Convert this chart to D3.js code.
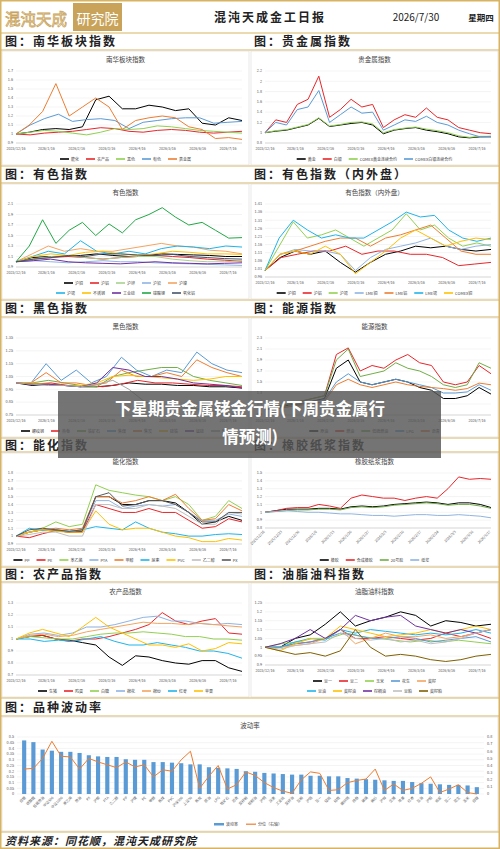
<!DOCTYPE html>
<html><head><meta charset="utf-8">
<script src="https://cdn.jsdelivr.net/npm/d3@7"></script>
<style>body{margin:0;background:#fff}svg{display:block}text{font-family:"Noto Sans CJK SC","Noto Sans",sans-serif}</style>
</head><body><svg id="c" width="500" height="849"></svg>
<script>
// dates along the line panels
var dates = ["2025/12/16","2026/1/16","2026/2/16","2026/3/16","2026/4/16","2026/5/16","2026/6/16","2026/7/16"];
var rubberDates = ["2025/12/16","2025/12/23","2025/12/30","2026/1/6","2026/1/13","2026/1/20","2026/1/27","2026/2/3","2026/2/10","2026/2/17","2026/2/24","2026/3/3","2026/3/10","2026/3/17"];

var nanhuaNames = ["能化","农产品","黑色","有色","贵金属"];
var nanhuaVals = [
  [1,1.02,1.05,1.06,1.05,1.08,1.38,1.42,1.28,1.28,1.32,1.3,1.26,1.28,1.12,1.1,1.18,1.15],
  [1,0.99,1.01,1.02,1.03,1.05,1.07,1.06,1.03,1.02,1.04,1.05,1.04,1.02,1.01,1.02,1.03],
  [1,1.02,1.04,1.03,1.01,0.99,1.02,1.06,1.05,1.06,1.09,1.08,1.06,1.04,1.03,1.02,1.01],
  [1,1.1,1.17,1.22,1.14,1.16,1.17,1.15,1.06,1.13,1.15,1.17,1.18,1.18,1.12,1.13,1.14],
  [1,1.1,1.25,1.56,1.2,1.3,1.4,1.3,1.05,1.15,1.18,1.2,1.18,1.08,1.05,0.95,0.96,0.94]];

var preciousNames = ["黄金","白银","COMEX黄金连续合约","COMEX白银连续合约"];
var preciousVals = [
  [1,1.03,1.05,1.1,1.15,1.28,1.12,1.15,1.18,1.2,1.15,0.98,1.05,1.08,1.1,1.05,1.02,0.98,0.92,0.9,0.92,0.92],
  [1,1.25,1.2,1.55,1.65,2.1,1.3,1.45,1.65,1.5,1.55,1.1,1.25,1.35,1.3,1.48,1.3,1.25,1.1,1.05,1.0,0.98],
  [1,1.04,1.06,1.11,1.16,1.29,1.13,1.16,1.2,1.21,1.17,1.0,1.06,1.09,1.11,1.07,1.04,1.0,0.94,0.91,0.93,0.93],
  [1,1.2,1.15,1.45,1.5,1.82,1.2,1.35,1.5,1.38,1.4,1.05,1.15,1.25,1.22,1.32,1.2,1.15,1.05,0.98,0.92,0.93]];

var nonferrousNames = ["沪铜","沪铝","沪锌","沪铅","沪镍","沪锡","不锈钢","工业硅","碳酸锂","氧化铝"];
var nonferrousVals = [
  [1,1.08,1.1,1.1,1.12,1.15,1.12,1.1,1.12,1.15,1.14,1.13,1.12,1.1,1.1],
  [1,1.05,1.08,1.1,1.08,1.05,1.08,1.1,1.12,1.1,1.08,1.05,1.03,1.01],
  [1,1.05,1.1,1.12,1.08,1.05,1.08,1.1,1.1,1.05,1.02,1.0,1.0,1.02],
  [1,1.02,1.0,0.98,1.0,1.02,1.0,1.0,0.98,0.97,0.96,0.95,0.94,0.93],
  [1,1.15,1.3,1.2,1.25,1.2,1.2,1.25,1.3,1.35,1.3,1.28,1.22,1.2,1.15],
  [1,1.1,1.2,1.15,1.4,1.2,1.15,1.2,1.15,1.25,1.3,1.28,1.25,1.3,1.28],
  [1,1.1,1.15,1.12,1.18,1.2,1.15,1.12,1.15,1.2,1.18,1.15,1.15,1.14],
  [1,1.02,1.05,1.0,0.98,0.97,0.96,0.98,1.0,0.98,0.97,0.96,0.97,0.98],
  [1,1.3,1.8,1.35,1.6,1.75,1.5,1.72,1.55,1.8,1.9,2.03,1.85,1.7,1.75,1.6,1.45,1.46],
  [1,1.05,1.08,1.12,1.1,1.15,1.15,1.13,1.12,1.14,1.1,1.08,1.06,1.05]];

var innerOuterNames = ["沪铜","沪铝","沪锡","LME铜","LME铝","LME锡","COMEX铜"];
var innerOuterVals = [
  [1,1.08,1.12,1.1,1.12,1.05,0.99,1.05,1.1,1.12,1.15,1.14,1.15,1.13,1.12,1.13],
  [1,1.08,1.1,1.12,1.12,1.15,1.1,1.12,1.12,1.1,1.1,1.08,1.03,1.04,1.05],
  [1,1.15,1.3,1.2,1.22,1.25,1.2,1.15,1.2,1.25,1.35,1.25,1.28,1.2,1.15,1.17,1.15],
  [1,1.1,1.13,1.12,1.12,1.1,1.0,1.08,1.13,1.15,1.17,1.2,1.15,1.13,1.15,1.16],
  [1,1.1,1.12,1.15,1.18,1.2,1.2,1.15,1.2,1.22,1.25,1.28,1.2,1.12,1.1,1.1],
  [1,1.2,1.31,1.25,1.2,1.22,1.2,1.2,1.25,1.3,1.36,1.33,1.34,1.25,1.2,1.18,1.2],
  [1,1.1,1.12,1.1,1.15,1.1,0.98,1.05,1.12,1.2,1.25,1.2,1.15,1.18,1.2,1.19]];

var ferrousNames = ["螺纹钢","热卷","铁矿石","焦煤","焦炭","硅铁","锰硅","玻璃"];
var ferrousVals = [
  [1,0.98,0.99,0.98,0.97,0.97,0.98,1.0,0.99,0.99,0.98,0.98,0.97,0.97,0.96],
  [1,0.99,1.0,0.98,0.98,0.97,0.99,1.02,1.0,1.0,0.99,0.98,0.98,0.97],
  [1,1.0,1.02,1.0,0.98,0.97,1.05,1.08,1.1,1.12,1.12,1.05,1.02,1.0,0.98],
  [1,1.0,1.15,1.02,1.1,1.0,1.05,1.2,1.1,1.05,1.1,1.08,1.24,1.15,1.1,1.08],
  [1,1.0,1.08,1.0,1.0,0.98,1.0,1.1,1.05,1.05,1.08,1.05,1.18,1.12,1.08,1.05],
  [1,1.0,0.99,0.98,0.98,1.0,1.05,1.06,1.05,1.04,1.03,1.02,1.03,1.05,1.05],
  [1,0.99,0.99,0.98,0.97,1.0,1.12,1.1,1.05,1.05,1.03,1.0,0.99,0.98,0.96],
  [1,0.99,0.98,0.98,0.97,0.99,1.02,0.95,0.85,0.83,0.82,0.8,0.79,0.76,0.75]];

var energyNames = ["原油","燃油","低硫燃油","LPG","沥青"];
var energyVals = [
  [1,1.03,1.08,1.1,1.15,1.2,1.75,1.9,1.5,1.45,1.5,1.55,1.5,1.4,1.35,1.2,1.2,1.25,1.4,1.28],
  [1,1.05,1.1,1.15,1.2,1.25,2.0,2.12,1.7,1.8,1.75,1.9,2.0,1.85,1.8,1.5,1.45,1.5,1.8,1.65],
  [1,1.05,1.1,1.15,1.2,1.25,1.9,2.1,1.6,1.65,1.7,1.85,1.75,1.7,1.6,1.45,1.4,1.45,1.85,1.75],
  [1,1.03,1.05,1.1,1.15,1.18,1.5,1.65,1.5,1.45,1.5,1.55,1.5,1.45,1.4,1.3,1.3,1.32,1.45,1.35],
  [1,1.02,1.05,1.08,1.1,1.15,1.45,1.55,1.45,1.4,1.45,1.5,1.45,1.42,1.4,1.38,1.35,1.38,1.48,1.45]];

var chemNames = ["PP","PE","苯乙烯","PTA","甲醇","尿素","PVC","乙二醇","PX"];
var chemVals = [
  [1,1.05,1.08,1.07,1.05,1.06,1.5,1.5,1.4,1.4,1.45,1.45,1.42,1.3,1.15,1.18,1.25,1.2],
  [1,0.98,1.03,1.07,1.05,1.05,1.4,1.35,1.3,1.3,1.35,1.3,1.3,1.2,1.1,1.12,1.22,1.18],
  [1,1.05,1.1,1.18,1.12,1.15,1.65,1.58,1.55,1.52,1.5,1.45,1.5,1.4,1.2,1.25,1.45,1.35],
  [1,1.05,1.08,1.08,1.06,1.08,1.45,1.45,1.35,1.38,1.4,1.38,1.4,1.3,1.2,1.2,1.28,1.25],
  [1,1.05,1.08,1.1,1.08,1.1,1.5,1.5,1.42,1.45,1.5,1.45,1.53,1.35,1.2,1.22,1.4,1.32],
  [1,1.1,1.07,1.08,1.06,1.08,1.12,1.1,1.08,1.18,1.1,1.05,1.03,1.0,1.0,1.02,1.03,1.02],
  [1,1.05,1.08,1.06,1.05,1.05,1.32,1.15,1.08,1.1,1.1,1.05,1.0,0.98,0.93,0.93,0.97,0.95],
  [1,1.02,1.05,1.05,1.0,1.0,1.4,1.4,1.35,1.35,1.4,1.38,1.35,1.25,1.15,1.15,1.3,1.28],
  [1,1.08,1.1,1.08,1.06,1.08,1.5,1.55,1.38,1.4,1.45,1.45,1.4,1.3,1.18,1.18,1.3,1.3]];

var rubberNames = ["橡胶","合成橡胶","20号胶","纸浆"];
var rubberVals = [
  [1,1.02,1.04,1.04,1.04,1.05,1.05,1.04,1.07,1.08,1.07,1.08,1.1,1.11,1.12,1.13,1.12,1.1,1.12,1.12,1.1,1.06],
  [1,1.02,1.05,1.06,1.06,1.1,1.08,1.05,1.18,1.22,1.2,1.18,1.18,1.15,1.18,1.2,1.18,1.3,1.45,1.42,1.43,1.42],
  [1,1.01,1.02,1.03,1.03,1.04,1.04,1.03,1.06,1.07,1.06,1.07,1.09,1.1,1.11,1.12,1.11,1.09,1.1,1.1,1.08,1.05],
  [1,1.01,1.02,1.01,1.0,1.0,0.99,0.98,0.98,0.97,0.96,0.96,0.95,0.96,0.97,0.97,0.96,0.96,0.97,0.96,0.95,0.93]];

var agriNames = ["生猪","鸡蛋","白糖","棉花","棉纱","红枣","苹果"];
var agriVals = [
  [1,1.02,1.03,1.0,0.99,0.97,0.95,0.85,0.78,0.86,0.85,0.82,0.8,0.79,0.82,0.82,0.76,0.73],
  [1,1.02,1.03,1.0,0.98,1.0,1.0,1.02,1.05,1.08,1.12,1.22,1.15,1.12,1.15,1.17,1.05,1.04],
  [1,1.02,1.01,1.0,1.0,1.02,1.04,1.05,1.05,1.06,1.05,1.04,1.02,1.02,1.0,1.0,0.99],
  [1,1.04,1.05,1.03,1.05,1.1,1.1,1.12,1.15,1.18,1.19,1.15,1.15,1.13,1.12,1.13,1.12],
  [1,1.03,1.04,1.02,1.03,1.06,1.08,1.1,1.12,1.14,1.13,1.13,1.12,1.13,1.12,1.11,1.1],
  [1,1.0,0.98,0.99,0.98,1.0,1.02,0.98,0.95,0.95,0.97,0.95,0.93,0.9,0.9,0.88,0.84],
  [1,1.05,1.08,1.05,1.02,1.1,1.18,1.1,1.05,1.0,0.95,0.95,0.93,0.96,0.9,0.92,0.97,0.96]];

var oilNames = ["豆一","豆二","玉米","花生","菜籽","豆油","菜籽油","棕榈油","豆粕","菜籽粕"];
var oilVals = [
  [1,1.0,1.05,1.07,1.13,1.2,1.12,1.15,1.17,1.2,1.18,1.12,1.15,1.14,1.12,1.13],
  [1,1.0,1.02,1.03,1.05,1.1,1.05,1.05,1.06,1.05,1.04,1.05,1.08,1.06,1.08,1.05],
  [1,1.02,1.03,1.05,1.05,1.08,1.06,1.05,1.04,1.03,1.04,1.03,1.04,1.03,1.02],
  [1,1.0,1.02,1.03,1.05,1.08,1.07,1.05,1.05,1.06,1.05,1.03,1.04,1.05,1.06,1.03],
  [1,1.0,1.01,1.02,1.05,1.1,1.02,1.05,1.08,1.06,1.06,1.07,1.05,1.06,1.08,1.1],
  [1,1.0,1.03,1.05,1.04,1.1,1.08,1.1,1.09,1.08,1.07,1.08,1.07,1.08,1.1,1.08],
  [1,0.98,1.02,1.05,1.05,1.12,1.1,1.08,1.06,1.07,1.08,1.1,1.08,1.1,1.12,1.1],
  [1,1.02,1.05,1.1,1.05,1.1,1.18,1.15,1.17,1.18,1.12,1.1,1.08,1.1,1.08,1.1],
  [1,0.99,1.01,1.02,1.03,1.08,1.05,1.04,1.05,1.03,1.04,1.02,1.03,1.05,1.08,1.1],
  [1,0.98,0.96,0.97,0.95,0.98,1.1,1.0,0.95,0.96,0.95,0.93,0.92,0.93,0.95,0.96]];

var volNames = ["白银","碳酸锂","低硫燃油","中证500","中证1000","苯乙烯","燃油","PX","沪锡","PTA","乙二醇","PP","沪镍","PE","甲醇","焦煤","PVC","沪深300","上证50","焦炭","原油","LPG","铁矿石","沥青","菜籽粕","棕榈油","沪铜","尿素","工业硅","菜籽油","豆粕","沪铝","豆一","锰硅","硅铁","螺纹钢","热卷","玻璃","棉纱","沪锌","生猪","苹果","红枣","豆油","沪铅","纸浆","豆二","花生","玉米","白糖"];
var volValues = [0.47,0.455,0.39,0.38,0.37,0.37,0.36,0.34,0.33,0.325,0.325,0.305,0.3,0.3,0.28,0.28,0.275,0.27,0.26,0.26,0.235,0.23,0.225,0.22,0.2,0.195,0.185,0.18,0.175,0.17,0.17,0.16,0.16,0.155,0.155,0.14,0.135,0.13,0.125,0.12,0.115,0.115,0.105,0.095,0.09,0.085,0.08,0.08,0.075,0.06];
var volPct = [0.35,0.36,0.5,0.74,0.53,0.52,0.35,0.5,0.45,0.41,0.37,0.45,0.38,0.41,0.24,0.34,0.32,0.48,0.6,0.08,0.25,0.4,0.07,0.13,0.31,0.26,0.16,0.09,0.04,0.01,0.2,0.31,0.29,0.05,0.06,0.16,0.19,0.21,0.35,0.05,0.14,0.05,0.08,0.15,0.24,0.02,0.07,0.13,0.02,0.0];

var svg = d3.select("#c");
var gold = "#d7b363";

function zip(names, vals, colors) {
  return names.map(function (n, i) { return {name: n, vals: vals[i], color: colors[i]}; });
}

function drawPanel(p) {
  var g = svg.append("g");
  g.append("rect").attr("x", p.x0).attr("y", p.py).attr("width", p.x1 - p.x0).attr("height", p.pe - p.py)
    .attr("fill", "#fff").attr("stroke", "#d9d9d9").attr("stroke-width", 0.6);
  g.append("text").attr("x", (p.x0 + p.x1) / 2).attr("y", p.py + 11).attr("text-anchor", "middle")
    .attr("font-size", 6.5).attr("fill", "#444").text(p.title);
  var legendH = p.legendRows.length * 10 + 2;
  var left = p.x0 + 14, right = p.x1 - 7, top = p.py + 20, bottom = p.pe - legendH - (p.rotated ? 26 : 10);
  var y = d3.scaleLinear().domain(p.domain).range([bottom, top]);
  var ticks = d3.range(p.domain[0], p.domain[1] + 1e-6, p.step);
  g.selectAll(".gl").data(ticks).join("line").attr("x1", left).attr("x2", right)
    .attr("y1", function (d) { return y(d); }).attr("y2", function (d) { return y(d); })
    .attr("stroke", "#e8e8e8").attr("stroke-width", 0.5);
  g.selectAll(".tl").data(ticks).join("text").attr("x", left - 3).attr("y", function (d) { return y(d) + 1.3; })
    .attr("text-anchor", "end").attr("font-size", 3.8).attr("fill", "#555")
    .text(function (d) { return +d.toFixed(2); });
  var xd = d3.scalePoint().domain(p.dates).range([left, right - (p.rotated ? 0 : 14)]);
  g.append("line").attr("x1", left).attr("x2", right).attr("y1", bottom).attr("y2", bottom).attr("stroke", "#bbb").attr("stroke-width", 0.5);
  p.dates.forEach(function (d) {
    var t = g.append("text").attr("font-size", 3.6).attr("fill", "#555").text(d);
    if (p.rotated) t.attr("transform", "translate(" + xd(d) + "," + (bottom + 4) + ") rotate(-45)").attr("text-anchor", "end");
    else t.attr("x", xd(d)).attr("y", bottom + 7).attr("text-anchor", "middle");
  });
  p.series.forEach(function (s) {
    var x = d3.scaleLinear().domain([0, s.vals.length - 1]).range([left, right]);
    g.append("path").datum(s.vals).attr("fill", "none").attr("stroke", s.color).attr("stroke-width", 1)
      .attr("stroke-linejoin", "round")
      .attr("d", d3.line().x(function (d, i) { return x(i); }).y(function (d) { return y(d); }));
  });
  p.legendRows.forEach(function (row, r) {
    var ly = p.pe - legendH + 6 + r * 10;
    var lg = g.append("g");
    var cx = 0;
    row.forEach(function (i) {
      var s = p.series[i];
      lg.append("line").attr("x1", cx).attr("x2", cx + 9).attr("y1", ly).attr("y2", ly).attr("stroke", s.color).attr("stroke-width", 1.6);
      var t = lg.append("text").attr("x", cx + 11).attr("y", ly + 1.5).attr("font-size", 4).attr("fill", "#444").text(s.name);
      cx += 11 + t.node().getComputedTextLength() + 7;
    });
    lg.attr("transform", "translate(" + ((p.x0 + p.x1) / 2 - (cx - 7) / 2) + ",0)");
  });
}

function header(y, h, text, x) {
  svg.append("text").attr("x", x).attr("y", y + h / 2 + 4.5).attr("font-size", 12).attr("font-weight", "bold")
    .attr("fill", "#222").attr("letter-spacing", 2).text(text);
}

// rows: header top, panel top, panel end
var rows = [[33, 50, 166], [166, 183, 300], [300, 317, 438], [438, 452, 567], [567, 582, 698]];
var L = [2, 249], R = [251, 498];
var headers = [["图：南华板块指数", "图：贵金属指数"], ["图：有色指数", "图：有色指数（内外盘）"], ["图：黑色指数", "图：能源指数"],
  ["图：能化指数", "图：橡胶纸浆指数"], ["图：农产品指数", "图：油脂油料指数"]];
rows.forEach(function (r, i) {
  header(r[0], r[1] - r[0], headers[i][0], 5);
  header(r[0], r[1] - r[0], headers[i][1], 254);
  svg.append("line").attr("x1", 0).attr("x2", 500).attr("y1", r[0]).attr("y2", r[0]).attr("stroke", gold).attr("stroke-width", 1.2);
  svg.append("line").attr("x1", 0).attr("x2", 500).attr("y1", r[1]).attr("y2", r[1]).attr("stroke", gold).attr("stroke-width", 1);
});

var panels = [
  {title: "南华板块指数", x: L, row: 0, domain: [0.9, 1.7], step: 0.1, series: zip(nanhuaNames, nanhuaVals, ["#000", "#e8262a", "#8fd14f", "#5b9bd5", "#ed7d31"]), legendRows: [[0, 1, 2, 3, 4]]},
  {title: "贵金属指数", x: R, row: 0, domain: [0.8, 2.2], step: 0.2, series: zip(preciousNames, preciousVals, ["#000", "#e8262a", "#8fd14f", "#5b9bd5"]), legendRows: [[0, 1, 2, 3]]},
  {title: "有色指数", x: L, row: 1, domain: [0.9, 2.1], step: 0.2, series: zip(nonferrousNames, nonferrousVals, ["#000", "#e8262a", "#a9d18e", "#8fb4e3", "#f4a460", "#1fb4ea", "#ffc000", "#7030a0", "#21a845", "#44546a"]), legendRows: [[0, 1, 2, 3, 4], [5, 6, 7, 8, 9]]},
  {title: "有色指数（内外盘）", x: R, row: 1, domain: [0.96, 1.41], step: 0.05, series: zip(innerOuterNames, innerOuterVals, ["#000", "#e8262a", "#92d050", "#8fb4e3", "#ed7d31", "#1fb4ea", "#ffc000"]), legendRows: [[0, 1, 2, 3, 4, 5, 6]]},
  {title: "黑色指数", x: L, row: 2, domain: [0.75, 1.35], step: 0.1, series: zip(ferrousNames, ferrousVals, ["#000", "#e8262a", "#70ad47", "#5b9bd5", "#ed7d31", "#ffc000", "#7030a0", "#a5a5a5"]), legendRows: [[0, 1, 2, 3, 4, 5, 6, 7]]},
  {title: "能源指数", x: R, row: 2, domain: [0.9, 2.3], step: 0.2, series: zip(energyNames, energyVals, ["#000", "#e8262a", "#70ad47", "#5b9bd5", "#ed7d31"]), legendRows: [[0, 1, 2, 3, 4]]},
  {title: "能化指数", x: L, row: 3, domain: [0.9, 1.8], step: 0.1, series: zip(chemNames, chemVals, ["#000", "#e8262a", "#92d050", "#8fb4e3", "#ed7d31", "#1fb4ea", "#ffc000", "#bfbfbf", "#595959"]), legendRows: [[0, 1, 2, 3, 4, 5, 6, 7, 8]]},
  {title: "橡胶纸浆指数", x: R, row: 3, domain: [0.8, 1.5], step: 0.1, rotated: true, series: zip(rubberNames, rubberVals, ["#000", "#e8262a", "#70ad47", "#8fb4e3"]), legendRows: [[0, 1, 2, 3]]},
  {title: "农产品指数", x: L, row: 4, domain: [0.7, 1.3], step: 0.1, series: zip(agriNames, agriVals, ["#000", "#e8262a", "#92d050", "#8fb4e3", "#f4a460", "#1fb4ea", "#ffc000"]), legendRows: [[0, 1, 2, 3, 4, 5, 6]]},
  {title: "油脂油料指数", x: R, row: 4, domain: [0.9, 1.25], step: 0.05, series: zip(oilNames, oilVals, ["#000", "#e8262a", "#92d050", "#5b9bd5", "#f4a460", "#1fb4ea", "#ffc000", "#7030a0", "#bfbfbf", "#806000"]), legendRows: [[0, 1, 2, 3, 4], [5, 6, 7, 8, 9]]}
];
panels.forEach(function (p) {
  var r = rows[p.row];
  p.x0 = p.x[0]; p.x1 = p.x[1]; p.py = r[1] + 1;
  p.pe = p.row < 4 ? rows[p.row + 1][0] - 1 : r[2] - 1;
  p.dates = p.rotated ? rubberDates : dates;
  drawPanel(p);
});

// volatility
var vy0 = 698, vp = 716, ve = 832;
header(vy0, vp - vy0, "图：品种波动率", 5);
svg.append("line").attr("x1", 0).attr("x2", 500).attr("y1", vy0).attr("y2", vy0).attr("stroke", gold).attr("stroke-width", 1.2);
svg.append("line").attr("x1", 0).attr("x2", 500).attr("y1", vp).attr("y2", vp).attr("stroke", gold).attr("stroke-width", 1);
svg.append("rect").attr("x", 2).attr("y", vp + 1).attr("width", 496).attr("height", ve - vp - 2).attr("fill", "#fff").attr("stroke", "#d9d9d9").attr("stroke-width", 0.6);
svg.append("text").attr("x", 250).attr("y", 728).attr("text-anchor", "middle").attr("font-size", 6.5).attr("fill", "#444").text("波动率");
var bx = d3.scaleBand().domain(volNames).range([17, 484]).padding(0.55);
var byL = d3.scaleLinear().domain([0, 0.5]).range([794, 737]);
var byR = d3.scaleLinear().domain([0, 0.8]).range([794, 737]);
var lt = d3.range(0, 0.5001, 0.05), rt = d3.range(0, 0.8001, 0.1);
svg.selectAll(".vg").data(lt).join("line").attr("x1", 17).attr("x2", 484)
  .attr("y1", function (d) { return byL(d); }).attr("y2", function (d) { return byL(d); }).attr("stroke", "#e8e8e8").attr("stroke-width", 0.5);
svg.selectAll(".vl").data(lt).join("text").attr("x", 14).attr("y", function (d) { return byL(d) + 1.3; })
  .attr("text-anchor", "end").attr("font-size", 3.8).attr("fill", "#555").text(function (d) { return +d.toFixed(2); });
svg.selectAll(".vr").data(rt).join("text").attr("x", 487).attr("y", function (d) { return byR(d) + 1.3; })
  .attr("font-size", 3.8).attr("fill", "#555").text(function (d) { return +d.toFixed(1); });
svg.selectAll(".bar").data(volValues).join("rect").attr("x", function (d, i) { return bx(volNames[i]); })
  .attr("y", function (d) { return byL(d); }).attr("width", bx.bandwidth()).attr("height", function (d) { return 794 - byL(d); })
  .attr("fill", "#5b9bd5");
svg.append("path").datum(volPct).attr("fill", "none").attr("stroke", "#ed7d31").attr("stroke-width", 1)
  .attr("d", d3.line().x(function (d, i) { return bx(volNames[i]) + bx.bandwidth() / 2; }).y(function (d) { return byR(d); }));
volNames.forEach(function (n) {
  svg.append("text").attr("transform", "translate(" + (bx(n) + bx.bandwidth() / 2 + 2) + ",798) rotate(-45)")
    .attr("text-anchor", "end").attr("font-size", 3.6).attr("fill", "#666").text(n);
});
svg.append("rect").attr("x", 214).attr("y", 823).attr("width", 10).attr("height", 2.5).attr("fill", "#5b9bd5");
svg.append("text").attr("x", 226).attr("y", 825.8).attr("font-size", 4).attr("fill", "#444").text("波动率");
svg.append("line").attr("x1", 246).attr("x2", 256).attr("y1", 824.2).attr("y2", 824.2).attr("stroke", "#ed7d31").attr("stroke-width", 1.2);
svg.append("text").attr("x", 258).attr("y", 825.8).attr("font-size", 4).attr("fill", "#444").text("分位（右轴）");

// footer
svg.append("line").attr("x1", 0).attr("x2", 500).attr("y1", ve).attr("y2", ve).attr("stroke", gold).attr("stroke-width", 1.2);
svg.append("text").attr("x", 5).attr("y", 845).attr("font-size", 11).attr("font-weight", "bold").attr("font-style", "italic")
  .attr("fill", "#222").attr("letter-spacing", 1).text("资料来源：同花顺，混沌天成研究院");

// title bar
svg.append("text").attr("x", 5).attr("y", 25).attr("font-size", 15.5).attr("fill", "#fff").attr("stroke", "#c9a35a").attr("stroke-width", 0.8).text("混沌天成");
svg.append("rect").attr("x", 73).attr("y", 3).attr("width", 49).attr("height", 28).attr("fill", "#c9a35a");
svg.append("text").attr("x", 97.5).attr("y", 23.5).attr("text-anchor", "middle").attr("font-size", 14).attr("fill", "#fff").text("研究院");
svg.append("text").attr("x", 270).attr("y", 22).attr("text-anchor", "middle").attr("font-size", 12).attr("font-weight", "bold").attr("fill", "#222").attr("letter-spacing", 2).text("混沌天成金工日报");
svg.append("text").attr("x", 416).attr("y", 21).attr("text-anchor", "middle").attr("font-size", 10).attr("fill", "#222").text("2026/7/30");
svg.append("text").attr("x", 481).attr("y", 21).attr("text-anchor", "middle").attr("font-size", 8.5).attr("font-weight", "bold").attr("fill", "#222").text("星期四");

// outer frame
svg.append("rect").attr("x", 0.75).attr("y", 0.75).attr("width", 498.5).attr("height", 847.5).attr("fill", "none").attr("stroke", gold).attr("stroke-width", 1.5);

// overlay banner
svg.append("rect").attr("x", 58).attr("y", 391).attr("width", 383).attr("height", 67).attr("fill", "rgba(85,85,85,0.82)");
svg.append("text").attr("x", 250).attr("y", 415).attr("text-anchor", "middle").attr("font-size", 16.5).attr("font-weight", "bold").attr("fill", "#fff").text("下星期贵金属铑金行情(下周贵金属行");
svg.append("text").attr("x", 250).attr("y", 443).attr("text-anchor", "middle").attr("font-size", 16.5).attr("font-weight", "bold").attr("fill", "#fff").text("情预测)");
</script></body></html>
